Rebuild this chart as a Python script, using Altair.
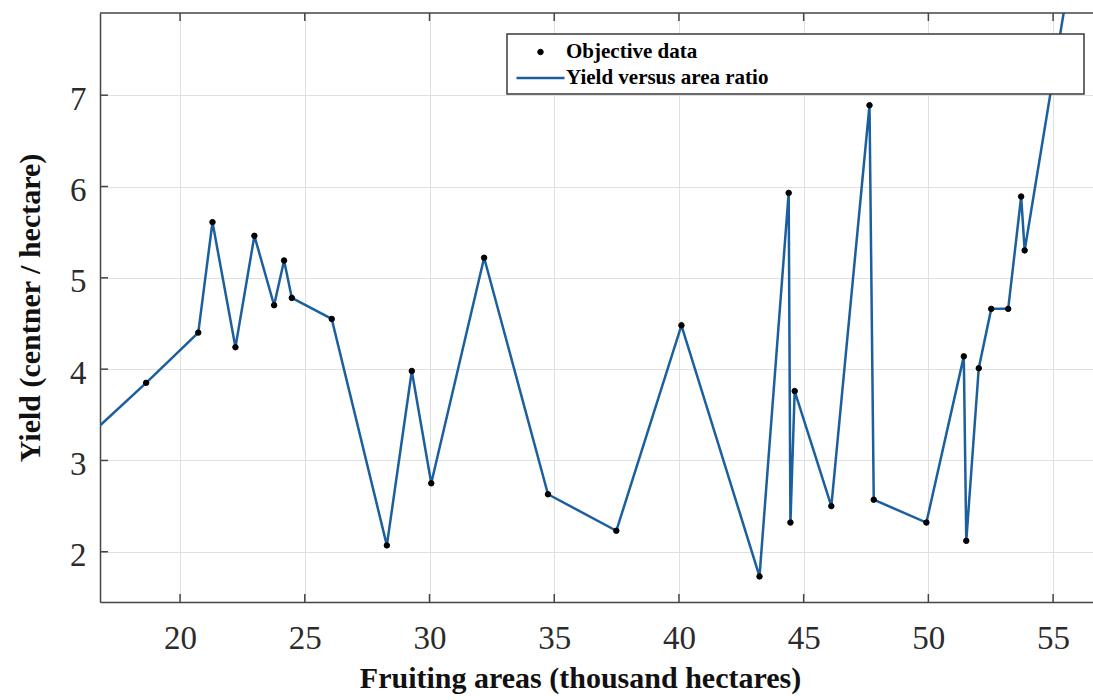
import altair as alt
import pandas as pd

# ---- data ----
area_k_ha = [16.5, 18.64, 20.73, 21.30, 22.22, 22.98, 23.77, 24.17, 24.48, 26.08,
             28.29, 29.29, 30.07, 32.19, 34.75, 37.49, 40.10, 43.23, 44.40, 44.47,
             44.64, 46.11, 47.64, 47.81, 49.92, 51.42, 51.52, 52.02, 52.52, 53.20,
             53.72, 53.86, 56.0]
yield_c_ha = [3.31, 3.85, 4.40, 5.61, 4.24, 5.46, 4.70, 5.19, 4.78, 4.55,
              2.07, 3.98, 2.75, 5.22, 2.63, 2.23, 4.48, 1.73, 5.93, 2.32,
              3.76, 2.50, 6.89, 2.57, 2.32, 4.14, 2.12, 4.01, 4.66, 4.66,
              5.89, 5.30, 8.86]
x_ticks = [20, 25, 30, 35, 40, 45, 50, 55]
y_ticks = [2, 3, 4, 5, 6, 7]
series_names = ["Objective data", "Yield versus area ratio"]

df = pd.DataFrame({
    "area": area_k_ha,
    "yield": yield_c_ha,
    "series": series_names[0],
    "order": list(range(len(area_k_ha))),
})
xt = pd.DataFrame({"area": x_ticks})
yt = pd.DataFrame({"yield": y_ticks})

W, H = 993, 589
FONT = "Liberation Serif"
LINE = "#1c5f9e"
AX = "#454545"

xs = alt.Scale(domain=[16.79, 56.6], nice=False, zero=False)
ys = alt.Scale(domain=[1.45, 7.9], nice=False, zero=False)

x_axis = alt.Axis(
    values=x_ticks, title="Fruiting areas (thousand hectares)",
    grid=True, gridColor="#e0e0e0", gridWidth=1,
    ticks=False, tickSize=0,
    labelFont=FONT, labelFontSize=33, labelColor="#2b2b2b",
    labelPadding=46, labelBaseline="alphabetic", labelFlush=False,
    titleFont=FONT, titleFontSize=30, titleFontWeight="bold", titleColor="#111111",
    titleX=480, titleY=85, titleBaseline="alphabetic", titleAlign="center",
    domainColor=AX, domainWidth=1.5,
)
y_axis = alt.Axis(
    values=y_ticks, title="Yield (centner / hectare)",
    grid=True, gridColor="#e0e0e0", gridWidth=1,
    ticks=False, tickSize=0,
    labelFont=FONT, labelFontSize=33, labelColor="#2b2b2b",
    labelPadding=14, labelBaseline="middle", labelOffset=4, labelFlush=False,
    titleFont=FONT, titleFontSize=30, titleFontWeight="bold", titleColor="#111111",
    titleAngle=270, titleX=-61, titleY=H / 2, titleBaseline="alphabetic", titleAlign="center",
    domainColor=AX, domainWidth=1.5,
)

legend = alt.Legend(
    title=None, orient="none", legendX=415, legendY=26, padding=0,
    columns=1, clipHeight=26, rowPadding=0, symbolOffset=0, labelOffset=0,
    labelFont=FONT, labelFontSize=21, labelFontWeight="bold", labelColor="black",
    labelBaseline="middle", labelLimit=400,
)

line = alt.Chart(df).mark_line(color=LINE, strokeWidth=2.5, clip=True).encode(
    x=alt.X("area:Q", scale=xs, axis=x_axis),
    y=alt.Y("yield:Q", scale=ys, axis=y_axis),
    order="order:Q",
)

points = alt.Chart(df).mark_point(filled=True, opacity=1, clip=True).encode(
    x=alt.X("area:Q", scale=xs, axis=x_axis),
    y=alt.Y("yield:Q", scale=ys, axis=y_axis),
    fill=alt.Fill("series:N", scale=alt.Scale(domain=series_names, range=["#000000", LINE]), legend=legend),
    stroke=alt.Stroke("series:N", scale=alt.Scale(domain=series_names, range=["#000000", LINE]), legend=legend),
    shape=alt.Shape("series:N", scale=alt.Scale(domain=series_names, range=["circle", "stroke"]), legend=legend),
    size=alt.Size("series:N", scale=alt.Scale(domain=series_names, range=[30, 2304]), legend=legend),
    strokeWidth=alt.StrokeWidth("series:N", scale=alt.Scale(domain=series_names, range=[1, 2.5]), legend=legend),
)

# legend frame (decoration)
box = alt.Chart(pd.DataFrame({"k": [0]})).mark_rect(
    fill="white", stroke="#3a3a3a", strokeWidth=1.5
).encode(x=alt.value(407), x2=alt.value(984), y=alt.value(21), y2=alt.value(81))

# inward tick marks (MATLAB style) and top frame line
tick_bottom = alt.Chart(xt).mark_rule(color=AX, strokeWidth=1.5).encode(
    x=alt.X("area:Q", scale=xs, axis=x_axis), y=alt.value(H), y2=alt.value(H - 8))
tick_top = alt.Chart(xt).mark_rule(color=AX, strokeWidth=1.5).encode(
    x=alt.X("area:Q", scale=xs, axis=x_axis), y=alt.value(0), y2=alt.value(8))
tick_left = alt.Chart(yt).mark_rule(color=AX, strokeWidth=1.5).encode(
    y=alt.Y("yield:Q", scale=ys, axis=y_axis), x=alt.value(0), x2=alt.value(8))
top_frame = alt.Chart(pd.DataFrame({"k": [0]})).mark_rule(color=AX, strokeWidth=1.5).encode(
    x=alt.value(0), x2=alt.value(W), y=alt.value(0))

chart = alt.layer(
    line, points, tick_bottom, tick_top, tick_left, top_frame, box
).properties(
    width=W, height=H,
    autosize=alt.AutoSizeParams(type="none"),
    padding={"left": 100, "top": 13, "right": 0, "bottom": 98},
    background="white",
).configure_view(strokeWidth=0)

chart.save("out.html", embed_options={"renderer": "svg", "actions": False})
